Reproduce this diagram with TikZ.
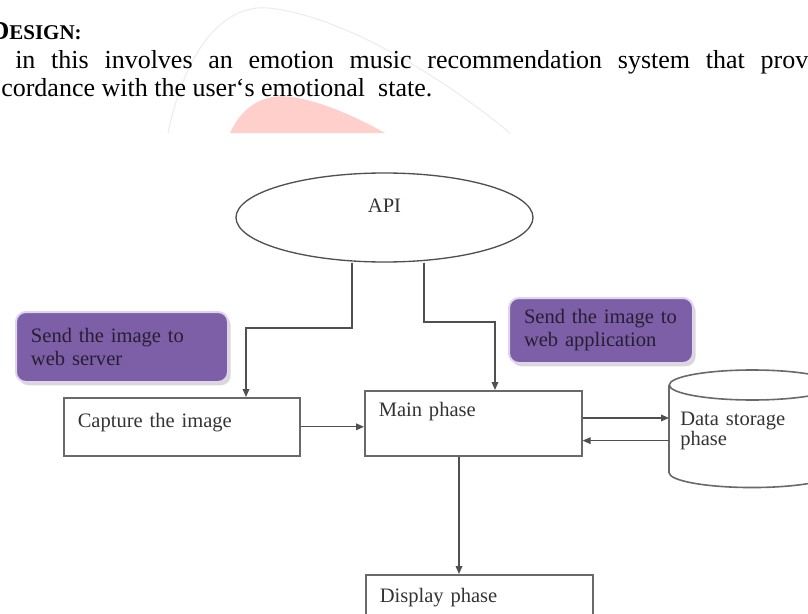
\documentclass[tikz,border=0pt]{standalone}
\usepackage{fontspec}
\setmainfont{Liberation Serif}
\usetikzlibrary{shapes.geometric,arrows.meta,shadows}
\definecolor{notefill}{RGB}{124,95,166}
\definecolor{noteedge}{RGB}{222,212,236}
\definecolor{notetext}{RGB}{40,30,50}
\definecolor{wire}{RGB}{80,80,80}
\definecolor{boxline}{RGB}{105,105,105}
\definecolor{marktint}{RGB}{255,208,203}
\definecolor{markline}{RGB}{236,236,236}
\newcommand{\figfont}{\fontsize{15.4pt}{17.25pt}\selectfont}
\newcommand{\bodyfont}{\fontsize{19.5pt}{22pt}\selectfont}

\begin{document}
\begin{tikzpicture}[x=0.75pt, y=-0.75pt,
  arr/.style={-{Triangle[length=6pt,width=5pt]}, draw=wire, line width=0.9pt},
  phase/.style={draw=boxline, line width=1.2pt, anchor=north west, align=left, inner xsep=10.5pt, inner ysep=0pt, text height=21pt, font=\figfont, text=black!80},
  note/.style={fill=notefill, draw=noteedge, line width=1.5pt, rounded corners=7.5pt, drop shadow={shadow xshift=2pt, shadow yshift=-2.5pt, fill=black!30}, anchor=north west, align=left, inner xsep=11.25pt, font=\figfont, text=notetext}]
  \useasboundingbox (0,0) rectangle (808,614);
  \clip (0,0) rectangle (808,614);
  % watermark behind the text
  \draw[markline, line width=0.8pt] (168,133) .. controls (190,30) and (235,5) .. (268,8) .. controls (340,15) and (440,75) .. (510,133);
  \fill[marktint] (230,133) .. controls (245,100) and (272,92) .. (298,98) .. controls (328,104) and (358,118) .. (385,133) -- cycle;
  % text above the figure
  \node[anchor=base east, inner sep=0pt] (head) at (82,40) {\bfseries\bodyfont D\fontsize{15.75pt}{18pt}\selectfont ESIGN:};
  \node[anchor=base west, inner sep=0pt] (line2) at (15,68) {\bodyfont\hbox to 594.75pt{in\hfil this\hfil involves\hfil an\hfil emotion\hfil music\hfil recommendation\hfil system\hfil that\hfil prov}};
  \node[anchor=base west, inner sep=0pt] (line3) at (1,96) {\bodyfont cordance with the user‘s emotional\ \ state.};
  % figure
  \node[ellipse, draw=wire, line width=1pt, minimum width=222.75pt, minimum height=66.75pt, inner sep=0pt, font=\figfont, text=black!80, text height=10.5pt, text depth=18.75pt] (api) at (384.5,217.5) {API};
  \node[note, text width=136.5pt, minimum height=52.5pt] (toserver) at (15,311) {Send the image to\\web server};
  \node[note, text width=115.5pt, minimum height=48.75pt] (toapp) at (508,297) {Send the image to\\web application};
  \node[phase, text width=156pt, text height=22.5pt, text depth=21pt] (cap) at (63,397) {Capture the image};
  \node[phase, text width=141.75pt, text height=19.5pt, text depth=29.25pt] (main) at (364,390) {Main phase};
  \node[phase, text width=149.25pt, text depth=30pt] (disp) at (365,574) {Display phase};
  \node[anchor=north west, align=left, inner xsep=8.25pt, inner ysep=0pt, text width=108pt, text height=30pt, text depth=35.25pt, font=\fontsize{15.4pt}{15pt}\selectfont, text=black!80] (store) at (669,385) {Data storage\\phase};
  \draw[boxline, line width=1.2pt] (store.north west) -- (store.south west) arc[start angle=180, end angle=0, x radius=83, y radius=15] -- (store.north east);
  \draw[boxline, line width=1.2pt] (store.north) ellipse [x radius=83, y radius=15];
  % connectors
  \coordinate (k1) at (352,328);
  \coordinate (k2) at (246,328);
  \coordinate (k3) at (424,322);
  \coordinate (k4) at (495,322);
  \coordinate (m1) at ([yshift=4pt]main.east);
  \coordinate (m2) at ([yshift=-13pt]main.east);
  \coordinate (m3) at (459,0);
  \draw[arr] (api.south -| k1) -- (k1) -- (k2) -- (k2 |- cap.north);
  \draw[arr] (api.south -| k3) -- (k3) -- (k4) -- (k4 |- main.north);
  \draw[arr] (cap.east) -- (cap.east -| main.west);
  \draw[arr] (m1) -- (m1 -| store.west);
  \draw[arr] (m2 -| store.west) -- (m2);
  \draw[arr] (main.south -| m3) -- (disp.north -| m3);
\end{tikzpicture}
\end{document}
